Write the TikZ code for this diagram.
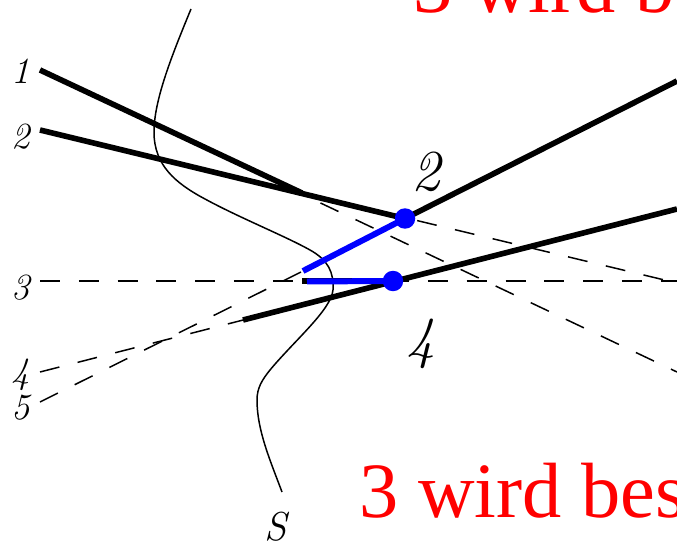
\documentclass[tikz,border=0pt]{standalone}
\usepackage{fontspec}
\newfontfamily\redfont{Liberation Serif}
\tikzset{
  rayline/.style={line width=0.85pt,black,dash pattern=on 0.4cm off 0.376cm},
  fatline/.style={line width=3.2pt,black},
  blueline/.style={line width=3.4pt,blue},
  bluedot/.style={circle,fill=blue,inner sep=0pt,minimum size=0.41cm},
  smalllab/.style={inner sep=0pt,font=\fontsize{21}{21}\selectfont\itshape},
  biglab/.style={inner sep=0pt,font=\fontsize{33}{33}\selectfont\itshape},
  redlab/.style={inner sep=0pt,anchor=base west,text=red,font=\fontsize{44.6}{44.6}\redfont}
}
\begin{document}
\begin{tikzpicture}[x=0.02cm,y=-0.02cm]
\clip (0,0) rectangle (677,544);
% left and right ends of the rays
\foreach \n/\xa/\ya/\xb/\yb in {1/40/70/677/372,2/40/130/677/283,3/40/281/677/281,4/40/372/677/209,5/40/402/677/81}{
    \coordinate (l\n) at (\xa,\ya);
    \coordinate (r\n) at (\xb,\yb);
}
\coordinate (k1) at (302,193);
\coordinate (k3) at (302,281);
\coordinate (k4) at (243,320);
\coordinate (k5) at (303,271);
\coordinate (p) at (405,218.5);
\coordinate (q) at (393,281);
% dashed
\draw[rayline] (l1) -- (r1);
\draw[rayline] (l2) -- (r2);
\draw[rayline] (l3) -- (r3);
\draw[rayline] (l4) -- (r4);
\draw[rayline] (l5) -- (k5);
% thick
\draw[fatline] (l1) -- (k1);
\draw[fatline] (l2) -- (p);
\draw[fatline] (k3) -- (q);
\draw[fatline] (k4) -- (r4);
\draw[fatline] (p) -- (r5);
% the curve
\draw[line width=0.85pt] (191,9) .. controls (172,55) and (154,100) .. (154,132)
    .. controls (154,165) and (175,183) .. (205,199)
    .. controls (240,218) and (285,236) .. (310,250)
    .. controls (328,260) and (334,272) .. (333,290)
    .. controls (331,310) and (295,340) .. (270,370)
    .. controls (262,380) and (257,388) .. (257,400)
    .. controls (257,430) and (270,460) .. (282,492);
% blue
\draw[blueline] (k5) -- (p);
\draw[blueline] (307,281.5) -- (q);
\node[bluedot] (dotp) at (p) {};
\node[bluedot] (dotq) at (q) {};
% labels
\foreach \n/\y in {1/71,2/137,3/288,4/375,5/408}{
    \node[smalllab] (lab\n) at (21,\y) {\n};
}
\node[smalllab,font=\fontsize{23}{23}\selectfont\itshape] (labs) at (276,527) {S};
\node[biglab] (labp) at (426,172) {2};
\node[biglab] (labq) at (421,344) {4};
\node[redlab] (texttop) at (413,13) {3 wird bes};
\node[redlab] (textbot) at (359,517) {3 wird bes};
\end{tikzpicture}
\end{document}
